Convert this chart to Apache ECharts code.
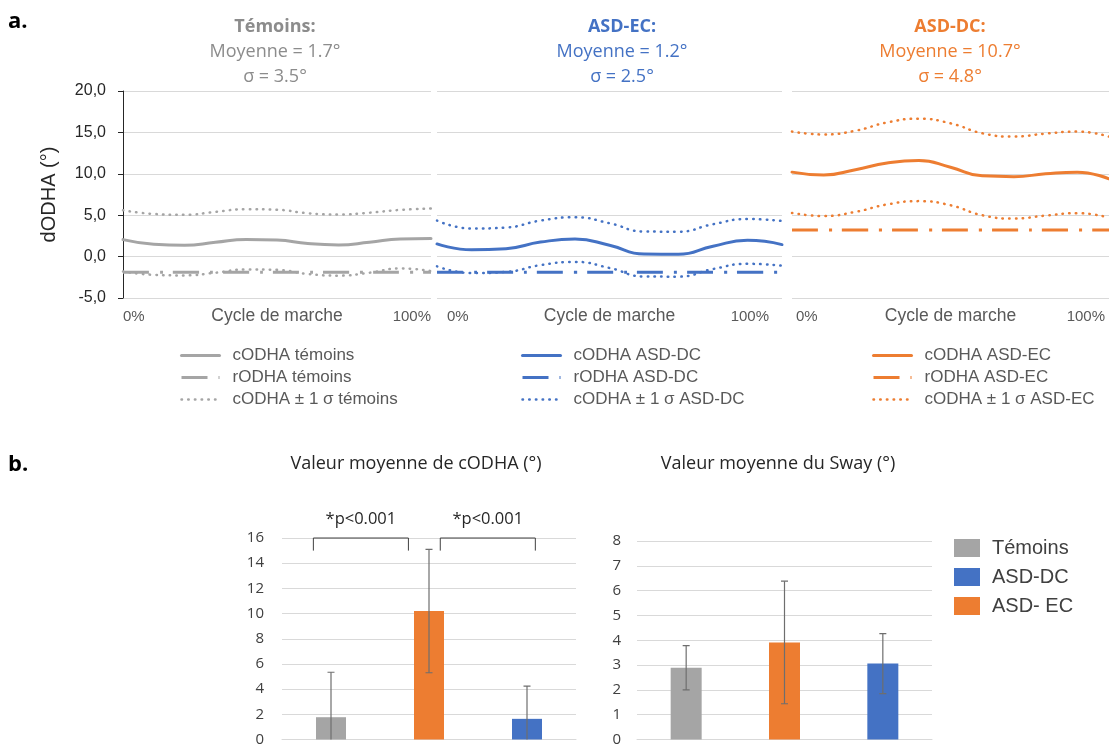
<!DOCTYPE html>
<html><head><meta charset="utf-8">
<script src="https://cdn.jsdelivr.net/npm/echarts@6/dist/echarts.min.js"></script>
<style>html,body{margin:0;padding:0;background:#fff}#c{width:1109px;height:747px}</style>
</head><body><div id="c"></div>
<script>
// ---------- data (a.) ----------
const cyclePct = [0, 10, 20, 30, 40, 50, 60, 70, 80, 90, 100];
const temC  = [2.05, 1.49, 1.36, 1.72, 2.06, 2.0, 1.57, 1.41, 1.73, 2.13, 2.2];
const temUp = [5.6, 5.15, 5.05, 5.4, 5.73, 5.66, 5.24, 5.08, 5.3, 5.64, 5.8];
const temLo = [-1.8, -2.2, -2.27, -1.95, -1.55, -1.6, -2.1, -2.3, -1.95, -1.42, -1.75];
const temR  = [-1.9, -1.9, -1.9, -1.9, -1.9, -1.9, -1.9, -1.9, -1.9, -1.9, -1.9];

const dcC  = [1.53, 0.82, 0.96, 1.75, 2.12, 1.37, 0.3, 0.28, 1.26, 1.96, 1.45];
const dcUp = [4.35, 3.39, 3.51, 4.35, 4.75, 4.03, 3.03, 3.01, 3.91, 4.54, 4.3];
const dcLo = [-1.17, -1.99, -1.85, -1.03, -0.64, -1.37, -2.4, -2.42, -1.5, -0.87, -1.1];
const dcR  = [-1.9, -1.9, -1.9, -1.9, -1.9, -1.9, -1.9, -1.9, -1.9, -1.9, -1.9];

const ecC  = [10.2, 9.85, 10.5, 11.3, 11.6, 10.8, 9.75, 9.65, 10.0, 10.2, 9.4];
const ecUp = [15.1, 14.75, 15.2, 16.2, 16.65, 16.1, 14.9, 14.5, 14.85, 15.1, 14.5];
const ecLo = [5.27, 4.9, 5.4, 6.3, 6.7, 6.2, 5.0, 4.6, 4.95, 5.25, 4.7];
const ecR  = [3.2, 3.2, 3.2, 3.2, 3.2, 3.2, 3.2, 3.2, 3.2, 3.2, 3.2];

const panelTitles = ['Témoins:', 'ASD-EC:', 'ASD-DC:'];
const panelMeans = ['Moyenne = 1.7°', 'Moyenne = 1.2°', 'Moyenne = 10.7°'];
const panelSigmas = ['σ = 3.5°', 'σ = 2.5°', 'σ = 4.8°'];

// ---------- data (b.) ----------
const barCats = ['Témoins', 'ASD- EC', 'ASD-DC'];
const codhaMean = [1.77, 10.2, 1.64];
const codhaSD = [3.57, 4.9, 2.6];
const swayMean = [2.89, 3.91, 3.06];
const swaySD = [0.89, 2.47, 1.21];
const bracketFrom = [-0.18, 1.115];
const bracketTo = [0.79, 2.085];
const bracketLabels = ['*p<0.001', '*p<0.001'];

// ---------- styles ----------
const GRAY = '#A5A5A5', BLUE = '#4472C4', ORANGE = '#ED7D31';
const TITLE_GRAY = '#8c8c8c';
const GRID_C = '#d9d9d9';
const dotted = {type: [0.5, 6.2], cap: 'round', width: 2.5};
const dashDot = {type: [26, 11, 3, 10], cap: 'butt', width: 3};
const solid = {type: 'solid', width: 3, cap: 'round'};

const pairs = arr => cyclePct.map((p, i) => [p, arr[i]]);

function lineSeries(name, arr, color, style, gi) {
  return {
    type: 'line', name: name, data: pairs(arr), xAxisIndex: gi, yAxisIndex: gi,
    smooth: 0.5, symbol: 'none', color: color,
    lineStyle: Object.assign({color: color}, style), silent: true
  };
}

const groups = [
  {c: temC, up: temUp, lo: temLo, r: temR, color: GRAY, suffix: 'témoins'},
  {c: dcC, up: dcUp, lo: dcLo, r: dcR, color: BLUE, suffix: 'ASD-DC'},
  {c: ecC, up: ecUp, lo: ecLo, r: ecR, color: ORANGE, suffix: 'ASD-EC'}
];

const series = [];
groups.forEach((g, gi) => {
  series.push(lineSeries('rODHA ' + g.suffix, g.r, g.color, dashDot, gi));
  series.push(lineSeries('cODHA ± 1 σ ' + g.suffix, g.lo, g.color, dotted, gi));
  series.push(lineSeries('cODHA ± 1 σ ' + g.suffix, g.up, g.color, dotted, gi));
  series.push(lineSeries('cODHA ' + g.suffix, g.c, g.color, solid, gi));
});

// bars
const barColors = [GRAY, ORANGE, BLUE];
const legendOrder = [0, 2, 1]; // Témoins, ASD-DC, ASD- EC
function barBlock(means, sds, gi, bw) {
  legendOrder.forEach(ci => {
    series.push({
      type: 'bar', name: barCats[ci], xAxisIndex: gi, yAxisIndex: gi,
      data: means.map((v, i) => i === ci ? v : '-'),
      barWidth: bw, barGap: '-100%', color: barColors[ci],
      itemStyle: {color: barColors[ci]}, silent: true
    });
  });
  series.push({
    type: 'custom', xAxisIndex: gi, yAxisIndex: gi, clip: true, z: 10, silent: true,
    data: means.map((m, i) => [i, m - sds[i], m + sds[i]]),
    encode: {x: 0, y: [1, 2]},
    renderItem: function (params, api) {
      const x = api.value(0);
      const top = api.coord([x, api.value(2)]);
      const bot = api.coord([x, api.value(1)]);
      const hw = 3.5;
      const st = {stroke: '#6e6e6e', lineWidth: 1.2};
      return {type: 'group', children: [
        {type: 'line', shape: {x1: top[0], y1: top[1], x2: bot[0], y2: bot[1]}, style: st},
        {type: 'line', shape: {x1: top[0] - hw, y1: top[1], x2: top[0] + hw, y2: top[1]}, style: st},
        {type: 'line', shape: {x1: bot[0] - hw, y1: bot[1], x2: bot[0] + hw, y2: bot[1]}, style: st}
      ]};
    }
  });
}
barBlock(codhaMean, codhaSD, 3, 30);
barBlock(swayMean, swaySD, 4, 31);

// significance brackets
series.push({
  type: 'custom', xAxisIndex: 3, yAxisIndex: 3, clip: false, z: 11, silent: true,
  data: bracketFrom.map((f, i) => [0, 16, f, bracketTo[i], 15, 17.46]),
  encode: {x: 0, y: 1},
  renderItem: function (params, api) {
    const base = api.coord([0, api.value(1)]);
    const band = api.size([1, 0])[0];
    const x1 = base[0] + api.value(2) * band;
    const x2 = base[0] + api.value(3) * band;
    const yTop = base[1];
    const yBot = api.coord([0, api.value(4)])[1];
    const yTxt = api.coord([0, api.value(5)])[1];
    return {type: 'group', children: [
      {type: 'polyline', shape: {points: [[x1, yBot], [x1, yTop], [x2, yTop], [x2, yBot]]},
       style: {stroke: '#404040', lineWidth: 1, fill: null}},
      {type: 'text', style: {text: bracketLabels[params.dataIndex], x: (x1 + x2) / 2, y: yTxt,
        align: 'center', verticalAlign: 'middle', fill: '#262626', font: '16.5px "Open Sans"'}}
    ]};
  }
});

// ---------- axes ----------
const gridsTop = [
  {left: 123, top: 91, width: 308, height: 207},
  {left: 437, top: 91, width: 345, height: 207},
  {left: 792, top: 91, width: 317, height: 207}
];
const grids = gridsTop.concat([
  {left: 282, top: 538, width: 294, height: 205},
  {left: 637, top: 541, width: 295, height: 200}
]);
const xLabelPad = [[0, 0, 0, 0], [0, 13, 0, 10], [0, 4, 0, 4]];

const xAxes = [0, 1, 2].map(i => ({
  gridIndex: i, type: 'value', min: 0, max: 100, interval: 100,
  axisLine: {show: false}, axisTick: {show: false}, splitLine: {show: false},
  axisLabel: {formatter: v => v + '%', fontSize: 15, color: '#595959', fontFamily: 'Liberation Sans',
    margin: 11, alignMinLabel: 'left', alignMaxLabel: 'right', padding: xLabelPad[i]},
  name: 'Cycle de marche', nameLocation: 'middle', nameGap: 9, nameMoveOverlap: false,
  nameTextStyle: {fontSize: 17.5, color: '#595959', fontFamily: 'Liberation Sans'}
})).concat([3, 4].map(i => ({
  gridIndex: i, type: 'category', data: barCats,
  axisLine: {show: true, lineStyle: {color: GRID_C}}, axisTick: {show: false},
  axisLabel: {show: false}
})));

const yAxes = [0, 1, 2].map(i => ({
  gridIndex: i, type: 'value', min: -5, max: 20, interval: 5,
  axisLine: {show: i === 0, lineStyle: {color: '#262626', width: 1}},
  axisTick: {show: i === 0, length: 5, lineStyle: {color: '#262626'}},
  axisLabel: {show: i === 0, margin: 17, fontSize: 16, color: '#262626', fontFamily: 'Liberation Sans',
    formatter: v => v.toFixed(1).replace('.', ',')},
  splitLine: {show: true, lineStyle: {color: GRID_C, width: 1}},
  name: i === 0 ? 'dODHA (°)' : '', nameLocation: 'middle', nameRotate: 90, nameGap: 64,
  nameTextStyle: {fontSize: 20, color: '#262626', fontFamily: 'Liberation Sans'}
})).concat([
  {gridIndex: 3, type: 'value', min: 0, max: 16, interval: 2,
   axisLine: {show: false}, axisTick: {show: false},
   axisLabel: {margin: 18, fontSize: 15, color: '#404040', fontFamily: 'Open Sans'},
   splitLine: {lineStyle: {color: GRID_C}}},
  {gridIndex: 4, type: 'value', min: 0, max: 8, interval: 1,
   axisLine: {show: false}, axisTick: {show: false},
   axisLabel: {margin: 16, fontSize: 15, color: '#404040', fontFamily: 'Open Sans'},
   splitLine: {lineStyle: {color: GRID_C}}}
]);

// ---------- titles ----------
const titleCenters = [275, 622, 950];
const titleColors = [TITLE_GRAY, BLUE, ORANGE];
const titles = [0, 1, 2].map(i => ({
  text: '{b|' + panelTitles[i] + '}\n{n|' + panelMeans[i] + '}\n{n|' + panelSigmas[i] + '}',
  left: titleCenters[i], top: 14, textAlign: 'center', padding: 0,
  textStyle: {fontWeight: 'normal', rich: {
    b: {fontSize: 18, fontWeight: 'bold', color: titleColors[i], fontFamily: 'Open Sans', lineHeight: 25, align: 'center'},
    n: {fontSize: 18, fontWeight: 'normal', color: titleColors[i], fontFamily: 'Open Sans', lineHeight: 25, align: 'center'}
  }}
})).concat([
  {text: 'a.', left: 8, top: 11, padding: 0, textStyle: {fontSize: 22, fontWeight: 'bold', color: '#000', fontFamily: 'Open Sans'}},
  {text: 'b.', left: 8, top: 454, padding: 0, textStyle: {fontSize: 22, fontWeight: 'bold', color: '#000', fontFamily: 'Open Sans'}},
  {text: 'Valeur moyenne de cODHA (°)', left: 416, top: 455, textAlign: 'center', padding: 0,
   textStyle: {fontSize: 18, fontWeight: 'normal', color: '#262626', fontFamily: 'Open Sans'}},
  {text: 'Valeur moyenne du Sway (°)', left: 778, top: 455, textAlign: 'center', padding: 0,
   textStyle: {fontSize: 18, fontWeight: 'normal', color: '#262626', fontFamily: 'Open Sans'}}
]);

// ---------- legends ----------
const legendLefts = [180, 521, 872];
const legends = groups.map((g, i) => ({
  orient: 'vertical', left: legendLefts[i], top: 347, padding: 0,
  itemWidth: 38, itemHeight: 14, itemGap: 5,
  data: ['cODHA ' + g.suffix, 'rODHA ' + g.suffix, 'cODHA ± 1 σ ' + g.suffix],
  itemStyle: {opacity: 0}, lineStyle: {width: 'inherit'},
  selectedMode: false,
  textStyle: {fontSize: 17, color: '#595959', fontFamily: 'Liberation Sans', padding: [0, 0, 0, 8], lineHeight: 17}
})).concat([{
  orient: 'vertical', left: 954, top: 538, padding: 0,
  itemWidth: 26, itemHeight: 18, itemGap: 9, icon: 'rect', selectedMode: false,
  data: ['Témoins', 'ASD-DC', 'ASD- EC'],
  textStyle: {fontSize: 20, color: '#404040', fontFamily: 'Liberation Sans', padding: [0, 0, 0, 7], lineHeight: 18}
}]);

const chart = echarts.init(document.getElementById('c'));
chart.setOption({
  backgroundColor: '#fff',
  animation: false,
  title: titles,
  legend: legends,
  grid: grids,
  xAxis: xAxes,
  yAxis: yAxes,
  series: series
});
</script></body></html>
